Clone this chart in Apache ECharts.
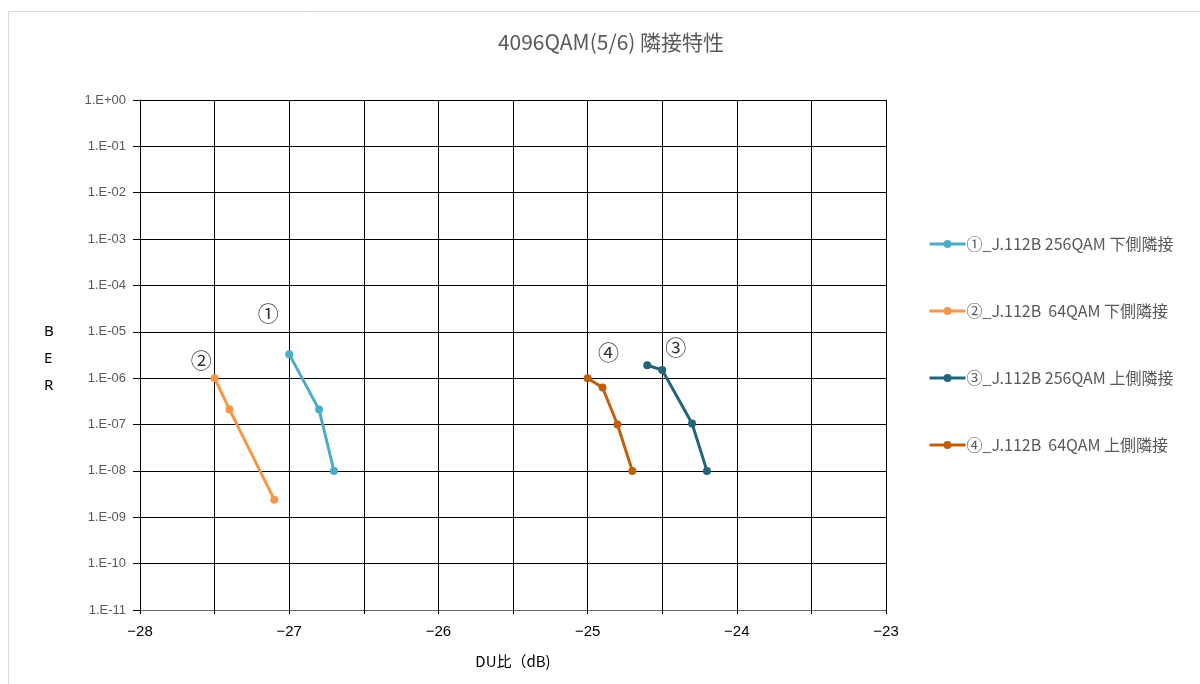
<!DOCTYPE html>
<html><head><meta charset="utf-8">
<script src="https://cdn.jsdelivr.net/npm/echarts@6/dist/echarts.min.js"></script>
<style>html,body{margin:0;padding:0;background:#fff}#c{width:1200px;height:684px}</style>
</head><body><div id="c"></div>
<script>
const titleText = '4096QAM(5/6) 隣接特性';
const xTicks = [-28, -27, -26, -25, -24, -23];
const seriesNames = ['①_J.112B 256QAM 下側隣接', '②_J.112B  64QAM 下側隣接', '③_J.112B 256QAM 上側隣接', '④_J.112B  64QAM 上側隣接'];
const s1x = [-27.0, -26.8, -26.7];
const s1y = [3.3e-6, 2.1e-7, 1.0e-8];
const s2x = [-27.5, -27.4, -27.1];
const s2y = [1.0e-6, 2.1e-7, 2.4e-9];
const s3x = [-24.6, -24.5, -24.3, -24.2];
const s3y = [1.9e-6, 1.5e-6, 1.05e-7, 1.0e-8];
const s4x = [-25.0, -24.9, -24.8, -24.7];
const s4y = [1.0e-6, 6.3e-7, 1.0e-7, 1.0e-8];
const markTexts = ['①', '②', '③', '④'];
const markX = [-27.14, -27.59, -24.41, -24.86];
const markY = [2.6e-5, 2.5e-6, 4.6e-6, 3.6e-6];
const colors = ['#4BACC6', '#F79646', '#23667A', '#C0600C'];

const xs = [s1x, s2x, s3x, s4x], ys = [s1y, s2y, s3y, s4y];
const chart = echarts.init(document.getElementById('c'));
function fmt(v){
  const e = Math.round(Math.log10(v));
  const a = Math.abs(e);
  return '1.E' + (e >= 0 ? '+' : '-') + (a < 10 ? '0' + a : a);
}
const series = seriesNames.map((n, i) => ({
  name: n, type: 'line',
  data: xs[i].map((x, j) => [x, ys[i][j]]),
  symbol: 'circle', symbolSize: 8,
  lineStyle: {width: 3, color: colors[i]},
  itemStyle: {color: colors[i]},
  z: 3
}));
series.push({
  type: 'scatter', symbolSize: 0, silent: true,
  data: markX.map((x, i) => ({value: [x, markY[i]], label: {show: true, formatter: markTexts[i], position: 'inside', fontSize: 21, color: '#000', fontFamily: 'Noto Sans CJK JP'}})),
  z: 4
});
chart.setOption({
  animation: false,
  backgroundColor: '#fff',
  color: colors,
  title: {text: titleText, left: 606, top: 27, textAlign: 'center',
    textStyle: {fontSize: 21, fontWeight: 'normal', color: '#595959', fontFamily: 'Noto Sans CJK JP'}},
  grid: {left: 140, right: 314, top: 100, bottom: 74},
  legend: {
    data: seriesNames, orient: 'vertical', left: 923, top: 231, itemGap: 51,
    itemWidth: 36, itemHeight: 10,
    lineStyle: {width: 3},
    textStyle: {fontSize: 16, color: '#595959', fontFamily: 'Noto Sans CJK JP', padding: [0, 0, 0, -4]}
  },
  xAxis: {
    type: 'value', min: -28, max: -23, interval: 0.5,
    name: 'DU比（dB)', nameLocation: 'middle', nameGap: 44,
    nameTextStyle: {fontSize: 15, color: '#000', fontFamily: 'Noto Sans CJK JP'},
    axisLine: {show: true, onZero: false, lineStyle: {color: '#7F7F7F', type: 'dotted', width: 1}},
    axisTick: {show: true, length: 4, lineStyle: {color: '#000'}},
    axisLabel: {fontSize: 15, color: '#000', margin: 14,
      formatter: v => (Number.isInteger(v) ? String(v).replace('-', '−') : '')},
    splitLine: {show: true, lineStyle: {color: '#000', width: 1}}
  },
  yAxis: {
    type: 'log', logBase: 10, min: 1e-11, max: 1, interval: 1,
    axisLine: {show: true, lineStyle: {color: '#000'}},
    axisTick: {show: true, length: 7, lineStyle: {color: '#000'}},
    axisLabel: {fontSize: 13, color: '#595959', margin: 14, formatter: fmt},
    splitLine: {show: true, lineStyle: {color: '#000', width: 1}},
    minorTick: {show: false}
  },
  graphic: [
    {type: 'rect', shape: {x: 8.5, y: 11.5, width: 1200, height: 700}, style: {fill: 'none', stroke: '#D9D9D9', lineWidth: 1}, silent: true},
    {type: 'text', left: 44, top: 318, style: {text: 'B\nE\nR', fontSize: 15, lineHeight: 27, fill: '#000', fontFamily: 'Noto Sans'}}
  ],
  series: series
});
</script></body></html>
